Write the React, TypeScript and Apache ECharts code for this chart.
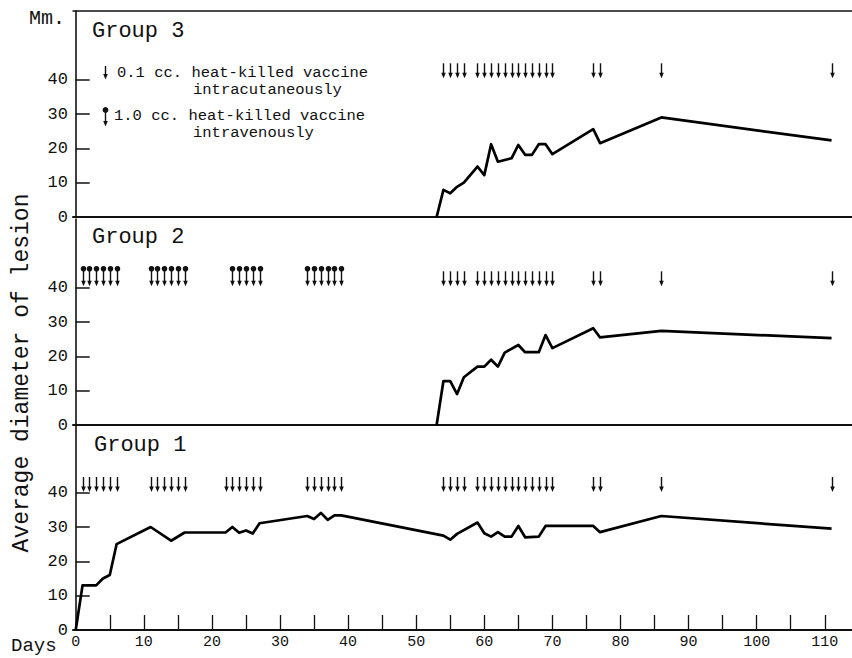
import React, { useEffect, useRef } from "react";
import * as echarts from "echarts";

// Group 1 — average lesion diameter (mm) by day
const days1 = [0, 1, 3, 4, 5, 6, 11, 14, 16, 22, 23, 24, 25, 26, 27, 34, 35, 36, 37, 38, 39, 54, 55, 56, 59, 60, 61, 62, 63, 64, 65, 66, 68, 69, 76, 77, 86, 111];
const lesion1 = [0, 13, 13, 15, 16, 25, 30, 26, 28.4, 28.4, 30, 28.3, 29, 28.1, 31.1, 33.2, 32.3, 34.1, 32.1, 33.4, 33.4, 27.5, 26.3, 28, 31.3, 28.2, 27.2, 28.5, 27.2, 27.2, 30.3, 27, 27.2, 30.3, 30.3, 28.5, 33.2, 29.5];

// Group 2
const days2 = [53, 54, 55, 56, 57, 59, 60, 61, 62, 63, 65, 66, 68, 69, 70, 76, 77, 86, 111];
const lesion2 = [0, 12.8, 12.8, 9, 13.9, 17, 17, 19, 17, 21.1, 23.3, 21.2, 21.2, 26.2, 22.4, 28.2, 25.5, 27.4, 25.3];

// Group 3
const days3 = [53, 54, 55, 56, 57, 59, 60, 61, 62, 63, 64, 65, 66, 67, 68, 69, 70, 76, 77, 86, 111];
const lesion3 = [0, 7.9, 6.9, 8.8, 10, 14.7, 12.2, 21.2, 16.1, 16.6, 17.1, 21, 18.1, 18.1, 21.2, 21.2, 18.3, 25.6, 21.5, 29, 22.3];

// Injection days
const icEarlyGroup1 = [1, 2, 3, 4, 5, 6, 11, 12, 13, 14, 15, 16, 22, 23, 24, 25, 26, 27, 34, 35, 36, 37, 38, 39];
const ivGroup2 = [1, 2, 3, 4, 5, 6, 11, 12, 13, 14, 15, 16, 23, 24, 25, 26, 27, 34, 35, 36, 37, 38, 39];
const icLateAll = [54, 55, 56, 57, 59, 60, 61, 62, 63, 64, 65, 66, 67, 68, 69, 70, 76, 77, 86, 111];

// Axis ticks
const xLabelValues = [0, 10, 20, 30, 40, 50, 60, 70, 80, 90, 100, 110];
const xTickValues = [5, 10, 15, 20, 25, 30, 35, 40, 45, 50, 55, 60, 65, 70, 75, 80, 85, 90, 95, 100, 105, 110];
const yLabelValues = [0, 10, 20, 30, 40];
const yTickValues = [10, 20, 30, 40];

const FONT = '"Liberation Mono", "DejaVu Sans Mono", monospace';
const INK = "#111";

function pairs(xs: number[], ys: number[]) {
  return xs.map((x, i) => [x, ys[i]]);
}

function arrowRenderer(ball: boolean) {
  return (_params: any, api: any) => {
    const base = api.coord([api.value(0), api.value(1)]);
    const x = Math.round(base[0]) + 0.5;
    const yb = base[1];
    const len = ball ? 19 : 15;
    const top = yb - len;
    const children: any[] = [
      { type: "line", shape: { x1: x, y1: top, x2: x, y2: yb - 3 }, style: { stroke: INK, lineWidth: 1.4 } },
      { type: "polygon", shape: { points: [[x - 2.3, yb - 5.5], [x + 2.3, yb - 5.5], [x, yb]] }, style: { fill: INK } },
    ];
    if (ball) {
      children.push({ type: "circle", shape: { cx: x, cy: top + 1.5, r: 2.8 }, style: { fill: INK } });
    }
    return { type: "group", children };
  };
}

function textEl(text: string, x: number, y: number, size: number, align = "left", extra: any = {}) {
  return {
    type: "text",
    x,
    y,
    ...extra,
    style: {
      text,
      font: `${size}px ${FONT}`,
      fill: INK,
      textAlign: align,
      textVerticalAlign: "middle",
      align,
      verticalAlign: "middle",
    },
  };
}

export default function App() {
  const ref = useRef<HTMLDivElement>(null);

  useEffect(() => {
    if (!ref.current) return;
    const chart = echarts.init(ref.current, undefined, { renderer: "svg" });

    const grids = [
      { left: 73, right: 0, top: 11, height: 206 },
      { left: 73, right: 0, top: 219, height: 206 },
      { left: 73, right: 0, top: 424, height: 206 },
    ];

    const baseX = {
      type: "value",
      min: -0.4,
      max: 114,
      splitLine: { show: false },
      axisLine: { show: true, onZero: false, lineStyle: { color: INK, width: 2 } },
    };

    const xAxes: any[] = [
      { ...baseX, gridIndex: 0, axisTick: { show: false }, axisLabel: { show: false } },
      { ...baseX, gridIndex: 1, axisTick: { show: false }, axisLabel: { show: false } },
      {
        ...baseX,
        gridIndex: 2,
        axisTick: { show: true, inside: true, length: 15, customValues: xTickValues, lineStyle: { color: INK, width: 1.3 } },
        axisLabel: { show: true, customValues: xLabelValues, margin: 5, color: INK, fontFamily: FONT, fontSize: 15 },
      },
      // top border of the whole frame
      { ...baseX, gridIndex: 0, position: "top", axisTick: { show: false }, axisLabel: { show: false }, axisLine: { show: true, onZero: false, lineStyle: { color: INK, width: 1.5 } } },
    ];

    const yAxes: any[] = [0, 1, 2].map((g) => ({
      type: "value",
      gridIndex: g,
      min: 0,
      max: 60,
      splitLine: { show: false },
      axisLine: { show: true, lineStyle: { color: INK, width: 1.6 } },
      axisTick: { show: true, inside: true, length: 14, customValues: yTickValues, lineStyle: { color: INK, width: 1.5 } },
      axisLabel: { show: true, customValues: yLabelValues, margin: 5, color: INK, fontFamily: FONT, fontSize: 17 },
    }));

    const lineStyle = { color: "#000", width: 2.7, join: "round" as const };

    const series: any[] = [
      { type: "line", xAxisIndex: 0, yAxisIndex: 0, data: pairs(days3, lesion3), showSymbol: false, lineStyle, z: 5 },
      { type: "line", xAxisIndex: 1, yAxisIndex: 1, data: pairs(days2, lesion2), showSymbol: false, lineStyle, z: 5 },
      { type: "line", xAxisIndex: 2, yAxisIndex: 2, data: pairs(days1, lesion1), showSymbol: false, lineStyle, z: 5 },
      // arrows
      { type: "custom", xAxisIndex: 0, yAxisIndex: 0, renderItem: arrowRenderer(false), data: icLateAll.map((d) => [d, 40.4]), encode: { x: 0, y: 1 }, silent: true },
      { type: "custom", xAxisIndex: 1, yAxisIndex: 1, renderItem: arrowRenderer(false), data: icLateAll.map((d) => [d, 40.4]), encode: { x: 0, y: 1 }, silent: true },
      { type: "custom", xAxisIndex: 1, yAxisIndex: 1, renderItem: arrowRenderer(true), data: ivGroup2.map((d) => [d, 40.4]), encode: { x: 0, y: 1 }, silent: true },
      { type: "custom", xAxisIndex: 2, yAxisIndex: 2, renderItem: arrowRenderer(false), data: icEarlyGroup1.map((d) => [d, 40.2]), encode: { x: 0, y: 1 }, silent: true },
      { type: "custom", xAxisIndex: 2, yAxisIndex: 2, renderItem: arrowRenderer(false), data: icLateAll.map((d) => [d, 40.2]), encode: { x: 0, y: 1 }, silent: true },
    ];

    const graphic: any[] = [
      textEl("Mm.", 29, 18, 20),
      textEl("Group 3", 92, 31, 22),
      textEl("Group 2", 92, 237, 22),
      textEl("Group 1", 94, 445, 22),
      textEl("0.1 cc. heat-killed vaccine", 117, 73, 15.5),
      textEl("intracutaneously", 193, 90, 15.5),
      textEl("1.0 cc. heat-killed vaccine", 114, 116, 15.5),
      textEl("intravenously", 193, 133, 15.5),
      textEl("Days", 11, 646, 19),
      textEl("Average diameter of lesion", 22, 373, 23, "center", { rotation: Math.PI / 2 }),
      // legend symbols
      { type: "line", shape: { x1: 105.5, y1: 66, x2: 105.5, y2: 76 }, style: { stroke: INK, lineWidth: 1.4 } },
      { type: "polygon", shape: { points: [[103.2, 74], [107.8, 74], [105.5, 79.5]] }, style: { fill: INK } },
      { type: "circle", shape: { cx: 105.5, cy: 110, r: 2.9 }, style: { fill: INK } },
      { type: "line", shape: { x1: 105.5, y1: 110, x2: 105.5, y2: 123 }, style: { stroke: INK, lineWidth: 1.4 } },
      { type: "polygon", shape: { points: [[103.2, 121], [107.8, 121], [105.5, 126.5]] }, style: { fill: INK } },
    ];

    chart.setOption({
      animation: false,
      backgroundColor: "#fff",
      grid: grids,
      xAxis: xAxes,
      yAxis: yAxes,
      series,
      graphic,
    });

    return () => chart.dispose();
  }, []);

  return (
    <div
      ref={ref}
      style={{ position: "fixed", left: 0, top: 0, width: 852, height: 658, background: "#fff" }}
    />
  );
}
